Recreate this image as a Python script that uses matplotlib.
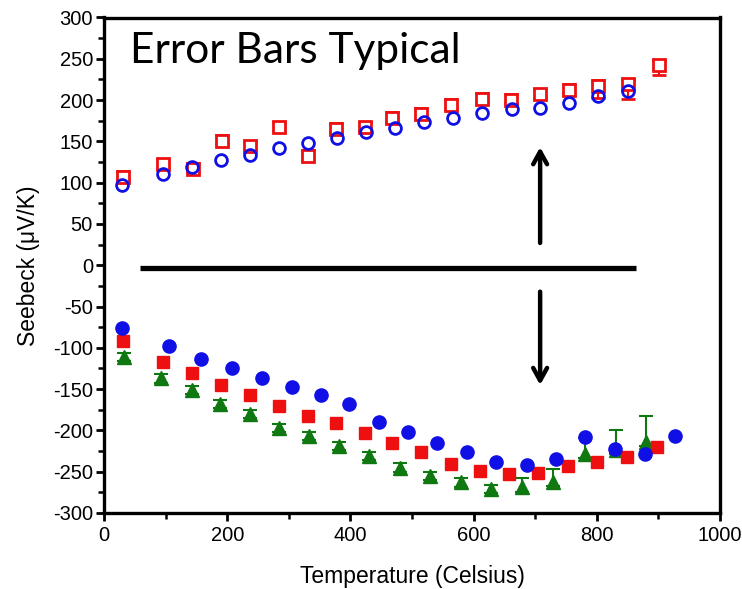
import matplotlib
matplotlib.use("Agg")
import matplotlib.pyplot as plt
import numpy as np
from matplotlib.ticker import MultipleLocator

plt.rcParams["axes.unicode_minus"] = False

# ---- data ----
t_pos_red = [31, 96, 144, 191, 237, 284, 331, 377, 423, 468, 515, 564, 613, 660, 707, 755, 802, 851, 901]
s_pos_red = [107, 122, 117, 151, 144, 167, 132, 165, 167, 178, 183, 194, 201, 200, 207, 212, 217, 219, 242]
e_pos_red_lo = [4, 4, 4, 4, 4, 4, 4, 4, 4, 4, 4, 4, 4, 4, 4, 4, 14, 18, 12]
e_pos_red_hi = [7, 7, 7, 7, 7, 7, 7, 7, 7, 7, 7, 7, 7, 7, 7, 7, 7, 7, 7]

t_pos_blue = [29, 96, 143, 190, 237, 284, 331, 378, 425, 472, 520, 567, 614, 663, 708, 755, 802, 851]
s_pos_blue = [97, 110, 119, 127, 134, 142, 148, 154, 161, 166, 173, 178, 184, 189, 191, 197, 205, 211]

t_neg_blue = [29, 105, 157, 207, 256, 305, 352, 397, 446, 493, 541, 590, 637, 686, 734, 781, 830, 878, 927]
s_neg_blue = [-76, -98, -113, -125, -137, -148, -157, -168, -190, -202, -215, -226, -238, -242, -235, -208, -223, -228, -207]

t_neg_red = [31, 96, 143, 190, 237, 284, 331, 376, 423, 468, 515, 564, 611, 658, 705, 754, 801, 849, 898]
s_neg_red = [-92, -117, -130, -145, -157, -171, -182, -191, -203, -215, -226, -241, -249, -253, -252, -243, -238, -232, -220]

t_neg_green = [32, 92, 143, 188, 237, 284, 332, 381, 431, 481, 530, 580, 629, 679, 729, 781, 831, 880]
s_neg_green = [-111, -137, -151, -168, -180, -197, -207, -219, -231, -245, -255, -263, -271, -269, -262, -228, -224, -214]
e_neg_green_lo = [5] * 18
e_neg_green_hi = [5, 5, 5, 5, 5, 5, 5, 5, 5, 5, 5, 5, 5, 11, 15, 19, 25, 32]

x_ticks = [0, 200, 400, 600, 800, 1000]
y_ticks = [-300, -250, -200, -150, -100, -50, 0, 50, 100, 150, 200, 250, 300]

RED = "#ee1010"
BLUE = "#1010e6"
GREEN = "#107810"

fig = plt.figure(figsize=(7.42, 5.89), dpi=100)
ax = fig.add_axes([104/742, 1 - 513/589, (720 - 104)/742, (513 - 17.5)/589])

# upper series
ax.errorbar(t_pos_red, s_pos_red, yerr=[e_pos_red_lo, e_pos_red_hi], fmt="s",
            mfc="white", mec=RED, ecolor=RED, mew=2.0, ms=8, capsize=5,
            elinewidth=1.5, capthick=1.8, zorder=3)
ax.plot(t_pos_blue, s_pos_blue, "o", mfc="none", mec=BLUE, mew=2.0, ms=8.5, zorder=4)

# lower series
ax.errorbar(t_neg_green, s_neg_green, yerr=[e_neg_green_lo, e_neg_green_hi], fmt="^",
            color=GREEN, ecolor=GREEN, ms=10, capsize=5, elinewidth=1.5,
            capthick=1.5, zorder=3)
ax.plot(t_neg_red, s_neg_red, "s", color=RED, ms=8.5, zorder=4)
ax.plot(t_neg_blue, s_neg_blue, "o", color=BLUE, ms=9.5, zorder=5)

# dividing line and arrows
ax.plot([58, 864], [-3, -3], color="black", lw=3.8, solid_capstyle="butt", zorder=2)
ax.annotate("", xy=(708, 143), xytext=(708, 27),
            arrowprops=dict(arrowstyle="->,head_length=0.9,head_width=0.5",
                            lw=3.2, color="black", shrinkA=0, shrinkB=0))
ax.annotate("", xy=(708, -145), xytext=(708, -32),
            arrowprops=dict(arrowstyle="->,head_length=0.9,head_width=0.5",
                            lw=3.2, color="black", shrinkA=0, shrinkB=0))

ax.text(42, 259, "Error Bars Typical", fontsize=30.5, family="Lato",
        ha="left", va="center", color="black")

ax.set_xlim(0, 1000)
ax.set_ylim(-300, 300)
ax.set_xticks(x_ticks)
ax.set_yticks(y_ticks)
ax.xaxis.set_minor_locator(MultipleLocator(100))
ax.yaxis.set_minor_locator(MultipleLocator(25))
ax.tick_params(axis="both", which="major", direction="out", length=6, width=2,
               labelsize=14.5, top=False, right=False)
ax.tick_params(axis="y", which="major", pad=2)
ax.tick_params(axis="both", which="minor", direction="out", length=4, width=1.8,
               top=False, right=False)
for lab in ax.get_xticklabels() + ax.get_yticklabels():
    lab.set_family("Liberation Sans")
for sp in ax.spines.values():
    sp.set_linewidth(2.4)

ax.set_xlabel("Temperature (Celsius)", fontsize=16.5, family="Liberation Sans", labelpad=14)
ax.set_ylabel("Seebeck (\u03bcV/K)", fontsize=16.5, family="Liberation Sans", labelpad=9)

fig.savefig("out.png", dpi=100)
